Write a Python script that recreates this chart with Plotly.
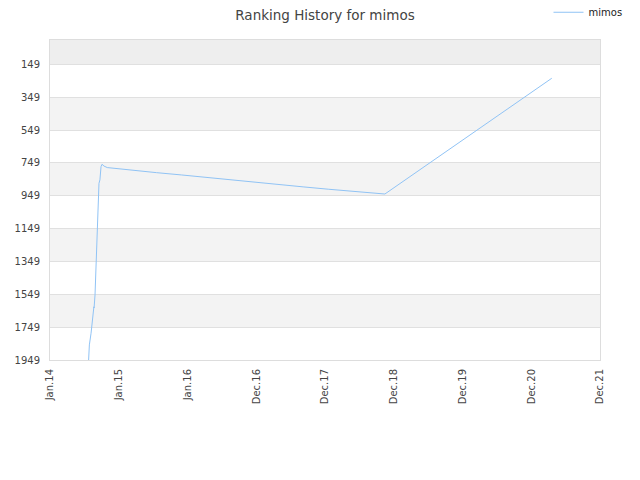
import plotly.graph_objects as go
import pandas as pd

dates = ["2014-07-25", "2014-07-29", "2014-08-07", "2014-08-14", "2014-08-19",
         "2014-08-22", "2014-08-23", "2014-08-28", "2014-09-02", "2014-09-08",
         "2014-09-13", "2014-09-18", "2014-09-23", "2014-09-29", "2014-10-04",
         "2014-10-15", "2014-11-01", "2015-01-25", "2015-04-20", "2015-07-21",
         "2015-12-01", "2016-04-15", "2016-08-14", "2016-12-20", "2017-05-01",
         "2017-09-10", "2018-01-20", "2018-06-01", "2018-10-01", "2018-11-14",
         "2021-04-18"]
ranks = [1949, 1857, 1786, 1726, 1665,
         1625, 1632, 1553, 1360, 1167,
         974, 873, 852, 771, 757,
         768, 777, 788, 797, 808,
         822, 838, 853, 867, 881,
         895, 909, 922, 934, 938,
         233]

tick_dates = ["2014-01-01", "2015-01-01", "2016-01-01", "2016-12-31", "2017-12-31",
              "2018-12-31", "2019-12-31", "2020-12-30", "2021-12-30"]
tick_labels = ["Jan.14", "Jan.15", "Jan.16", "Dec.16", "Dec.17",
               "Dec.18", "Dec.19", "Dec.20", "Dec.21"]
y_ticks = [149, 349, 549, 749, 949, 1149, 1349, 1549, 1749, 1949]
y_top = 0

fig = go.Figure()
fig.add_trace(go.Scatter(x=pd.to_datetime(dates), y=ranks, mode="lines", name="mimos",
                         line=dict(color="rgb(144,195,245)", width=1)))

shapes = [dict(type="rect", xref="paper", yref="y", x0=0, x1=1, y0=y_top, y1=y_ticks[0],
               fillcolor="#eeeeee", line=dict(width=0), layer="below")]
for i in range(len(y_ticks) - 1):
    shapes.append(dict(type="rect", xref="paper", yref="y", x0=0, x1=1,
                       y0=y_ticks[i], y1=y_ticks[i + 1],
                       fillcolor="#f3f3f3" if i % 2 == 1 else "#ffffff",
                       line=dict(width=0), layer="below"))

# page body has an 8px default margin, so the figure is sized to compensate
fig.update_layout(
    width=632, height=472,
    margin=dict(l=42, r=40, t=32, b=120, autoexpand=False),
    paper_bgcolor="white", plot_bgcolor="white",
    font=dict(family="DejaVu Sans", size=10, color="#444"),
    title=dict(text="Ranking History for mimos", x=0.5, xanchor="center",
               xref="paper", y=0.984, yanchor="middle",
               font=dict(size=13.5, color="#444")),
    showlegend=True,
    legend=dict(x=1.05, xanchor="right", y=1.132, yanchor="top",
                font=dict(size=10, color="#222"), bgcolor="rgba(0,0,0,0)"),
    shapes=shapes,
    xaxis=dict(range=[tick_dates[0], tick_dates[-1]], tickmode="array",
               tickvals=tick_dates, ticktext=tick_labels, tickangle=-90,
               showgrid=False, showline=True, linecolor="#dddddd", mirror=True,
               ticks="outside", ticklen=4, tickcolor="rgba(0,0,0,0)", zeroline=False),
    yaxis=dict(range=[y_ticks[-1], y_top], tickmode="array", tickvals=y_ticks,
               showgrid=True, gridcolor="#e0e0e0", showline=True, linecolor="#dddddd",
               mirror=True, zeroline=False, ticks="outside", ticklen=7,
               tickcolor="rgba(0,0,0,0)"),
)
fig.write_html("out.html")
